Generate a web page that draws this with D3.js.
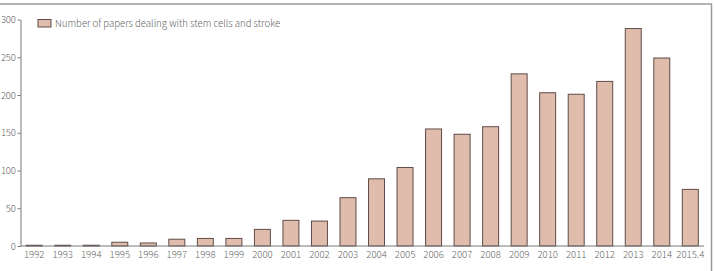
<!DOCTYPE html>
<html>
<head>
  <meta charset="utf-8">
  <title>Stem cells and stroke papers</title>
  <script src="https://d3js.org/d3.v7.min.js"></script>
  <style>
    body { margin: 0; background: #fff; }
    text { font-family: "Noto Sans CJK KR", "Noto Sans", sans-serif; font-weight: 300; fill: #666; }
  </style>
</head>
<body>
<svg class="chart"></svg>
<script>
// years on the x axis
const years = ["1992","1993","1994","1995","1996","1997","1998","1999","2000","2001","2002","2003",
  "2004","2005","2006","2007","2008","2009","2010","2011","2012","2013","2014","2015.4"];
// number of papers per year
const papers = [1, 1, 1, 5, 4, 9, 10, 10, 22, 34, 33, 64, 89, 104, 155, 148, 158, 228, 203, 201, 218, 288, 249, 75];
const yTicks = [0, 50, 100, 150, 200, 250, 300];
const legendLabel = "Number of papers dealing with stem cells and stroke";

const W = 714, H = 271;
const margin = {top: 19.5, right: 10, bottom: 25, left: 20.5};
const fontSize = "9.6px";

const svg = d3.select(".chart").attr("width", W).attr("height", H);

// frame: top and right border
svg.append("path")
  .attr("d", `M0,4 H711.5 V${H}`)
  .attr("fill", "none").attr("stroke", "#9a9a9a").attr("stroke-width", 1.5);

const x = d3.scaleBand().domain(years).range([margin.left, 704]).paddingInner(0.44).paddingOuter(0.2);
const y = d3.scaleLinear().domain([0, 300]).range([246, margin.top]);

// bars
svg.selectAll(".bar")
  .data(years.map((d, i) => ({year: d, value: papers[i]})))
  .join("rect")
    .attr("class", "bar")
    .attr("x", d => x(d.year))
    .attr("y", d => y(d.value))
    .attr("width", x.bandwidth())
    .attr("height", d => y(0) - y(d.value))
    .attr("fill", "#e0bcad")
    .attr("stroke", "#5e4c48")
    .attr("stroke-width", 1);

// x axis
const xAxis = svg.append("g")
  .attr("transform", `translate(0,${y(0)})`)
  .call(d3.axisBottom(x).tickSize(0).tickPadding(5));
xAxis.select(".domain").attr("stroke", "#777").attr("d", `M${margin.left},0H704`);
xAxis.selectAll("text").style("font-size", fontSize);

// y axis
const yAxis = svg.append("g")
  .attr("transform", `translate(${margin.left},0)`)
  .call(d3.axisLeft(y).tickValues(yTicks).tickSize(3).tickPadding(2).tickSizeOuter(0));
yAxis.select(".domain").attr("stroke", "#777");
yAxis.selectAll(".tick line").attr("stroke", "#777");
yAxis.selectAll("text").style("font-size", fontSize).attr("letter-spacing", "-0.3px");

// legend
const legend = svg.append("g").attr("transform", "translate(38,19.5)");
legend.append("rect")
  .attr("width", 13).attr("height", 7.5)
  .attr("fill", "#e0bcad").attr("stroke", "#5e4c48").attr("stroke-width", 1);
legend.append("text")
  .attr("x", 17).attr("y", 4).attr("dy", "0.35em")
  .style("font-size", fontSize)
  .text(legendLabel);
</script>
</body>
</html>
